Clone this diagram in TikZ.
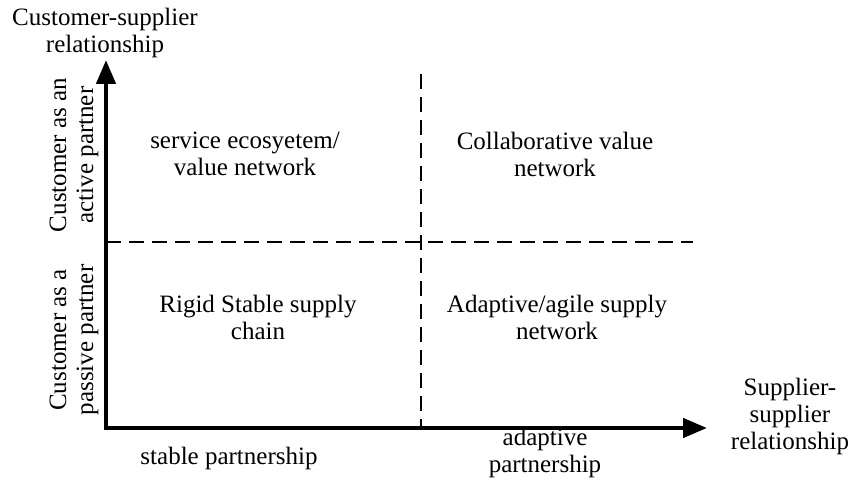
\documentclass[tikz,border=0pt]{standalone}
\usepackage{fontspec}
\setmainfont{Liberation Serif}
\usetikzlibrary{arrows.meta}

\tikzset{
    axisline/.style={line width=4.5pt, line join=miter,
        {Triangle[length=24pt,width=19pt]}-{Triangle[length=24pt,width=19pt]}},
    divider/.style={line width=1.5pt, dash pattern=on 15pt off 8pt},
    label/.style={align=center, inner sep=0pt,
        font=\fontsize{25}{27}\selectfont}
}

\begin{document}
\begin{tikzpicture}[x=1pt, y=1pt]

    % Fix the page size
    \useasboundingbox (0,0) rectangle (855,485);

    % Axis end points
    \coordinate (origin) at (106,57);
    \coordinate (ytip) at (106,425);
    \coordinate (xtip) at (707,57);

    % Quadrant dividers
    \coordinate (vtop) at (421,411);
    \coordinate (vbot) at (421,57);
    \coordinate (hleft) at (106,243);
    \coordinate (hright) at (693,243);
    \draw[divider] (vtop) -- (vbot);
    \draw[divider] (hleft) -- (hright);

    % Draw the axes
    \draw[axisline] (ytip) -- (origin) -- (xtip);

    % Axis titles
    \node[label] (ytitle) at (105,452) {Customer-supplier\\relationship};
    \node[label] (xtitle) at (790,69) {Supplier-\\supplier\\relationship};

    % Labels along the vertical axis
    \node[label, rotate=90] (active) at (74,330) {Customer as an\\active partner};
    \node[label, rotate=90] (passive) at (74,145) {Customer as a\\passive partner};

    % Labels along the horizontal axis
    \node[label] (stable) at (229,27) {stable partnership};
    \node[label] (adaptive) at (545,32) {adaptive\\partnership};

    % Quadrant labels
    \node[label] (service) at (245,331) {service ecosyetem/\\value network};
    \node[label] (collab) at (555,331) {Collaborative value\\network};
    \node[label] (rigid) at (258,168) {Rigid Stable supply\\chain};
    \node[label] (agile) at (557,168) {Adaptive/agile supply\\network};

\end{tikzpicture}
\end{document}
